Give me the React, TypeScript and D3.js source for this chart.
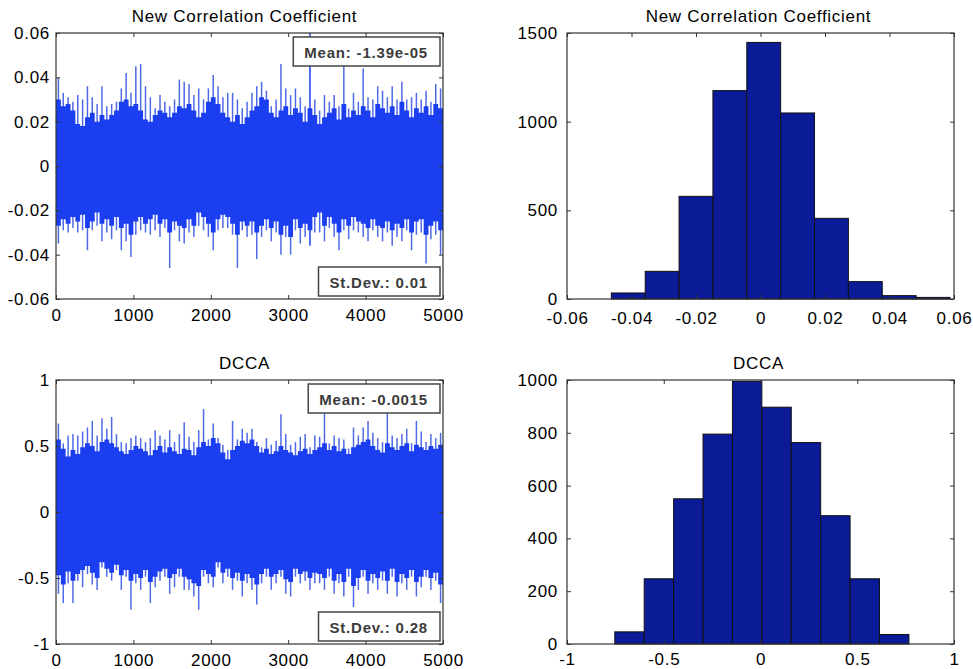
import React, { useEffect, useRef } from "react";
import * as d3 from "d3";

const seriesLength = 5000;

// New Correlation Coefficient series:
// peaks per 62.5-sample bin (the thin spikes) and the dense core per bin
const nccPeakHi = [
  0.040, 0.033, 0.031, 0.029, 0.032, 0.030, 0.036, 0.031, 0.028, 0.036,
  0.027, 0.028, 0.029, 0.035, 0.042, 0.033, 0.045, 0.046, 0.036, 0.031,
  0.026, 0.032, 0.029, 0.027, 0.030, 0.039, 0.038, 0.037, 0.032, 0.035,
  0.030, 0.035, 0.041, 0.036, 0.031, 0.033, 0.033, 0.030, 0.026, 0.029,
  0.033, 0.036, 0.038, 0.034, 0.027, 0.030, 0.046, 0.035, 0.032, 0.035,
  0.031, 0.027, 0.060, 0.030, 0.025, 0.032, 0.029, 0.032, 0.027, 0.045,
  0.026, 0.033, 0.029, 0.044, 0.031, 0.030, 0.036, 0.034, 0.031, 0.036,
  0.030, 0.038, 0.030, 0.031, 0.033, 0.030, 0.034, 0.029, 0.037, 0.035,
];
const nccPeakLo = [
  -0.035, -0.029, -0.030, -0.028, -0.030, -0.029, -0.038, -0.029, -0.027, -0.034,
  -0.030, -0.033, -0.029, -0.038, -0.034, -0.041, -0.031, -0.029, -0.030, -0.031,
  -0.029, -0.032, -0.028, -0.046, -0.029, -0.034, -0.035, -0.030, -0.032, -0.027,
  -0.029, -0.032, -0.038, -0.029, -0.028, -0.028, -0.031, -0.046, -0.029, -0.032,
  -0.031, -0.042, -0.032, -0.029, -0.034, -0.030, -0.040, -0.032, -0.040, -0.029,
  -0.035, -0.032, -0.036, -0.030, -0.030, -0.034, -0.028, -0.032, -0.038, -0.029,
  -0.033, -0.029, -0.030, -0.032, -0.034, -0.029, -0.032, -0.034, -0.030, -0.036,
  -0.032, -0.034, -0.029, -0.038, -0.031, -0.030, -0.044, -0.033, -0.031, -0.040,
];
const nccCoreHi = [
  0.030, 0.027, 0.028, 0.025, 0.019, 0.018, 0.022, 0.024, 0.020, 0.023,
  0.021, 0.023, 0.025, 0.029, 0.030, 0.027, 0.028, 0.025, 0.021, 0.020,
  0.023, 0.025, 0.024, 0.022, 0.024, 0.027, 0.026, 0.028, 0.025, 0.022,
  0.024, 0.029, 0.031, 0.028, 0.024, 0.022, 0.020, 0.023, 0.019, 0.022,
  0.025, 0.027, 0.031, 0.030, 0.024, 0.022, 0.025, 0.027, 0.023, 0.026,
  0.024, 0.020, 0.026, 0.023, 0.019, 0.022, 0.024, 0.026, 0.021, 0.028,
  0.022, 0.025, 0.023, 0.027, 0.025, 0.022, 0.028, 0.026, 0.024, 0.027,
  0.023, 0.029, 0.025, 0.022, 0.026, 0.024, 0.027, 0.023, 0.028, 0.026,
];
const nccCoreLo = [
  -0.027, -0.024, -0.026, -0.023, -0.025, -0.022, -0.028, -0.025, -0.021, -0.026,
  -0.024, -0.027, -0.023, -0.028, -0.026, -0.031, -0.025, -0.023, -0.026, -0.024,
  -0.022, -0.026, -0.024, -0.030, -0.025, -0.027, -0.028, -0.024, -0.027, -0.021,
  -0.023, -0.026, -0.030, -0.024, -0.022, -0.023, -0.026, -0.031, -0.025, -0.027,
  -0.025, -0.030, -0.027, -0.024, -0.028, -0.025, -0.031, -0.027, -0.032, -0.024,
  -0.028, -0.026, -0.029, -0.023, -0.021, -0.027, -0.023, -0.026, -0.030, -0.024,
  -0.027, -0.023, -0.025, -0.026, -0.028, -0.024, -0.027, -0.028, -0.025, -0.029,
  -0.026, -0.028, -0.024, -0.030, -0.025, -0.024, -0.031, -0.027, -0.025, -0.029,
];

// DCCA series, same binning
const dccaPeakHi = [
  0.67, 0.52, 0.58, 0.59, 0.58, 0.61, 0.64, 0.69, 0.58, 0.71,
  0.63, 0.72, 0.59, 0.53, 0.52, 0.56, 0.58, 0.56, 0.53, 0.56,
  0.62, 0.58, 0.55, 0.62, 0.53, 0.59, 0.68, 0.57, 0.53, 0.62,
  0.78, 0.55, 0.67, 0.56, 0.51, 0.47, 0.69, 0.55, 0.63, 0.60,
  0.63, 0.53, 0.49, 0.56, 0.51, 0.54, 0.74, 0.59, 0.51, 0.53,
  0.57, 0.59, 0.49, 0.58, 0.57, 0.77, 0.52, 0.58, 0.56, 0.55,
  0.48, 0.64, 0.58, 0.64, 0.69, 0.60, 0.56, 0.53, 0.77, 0.58,
  0.56, 0.59, 0.63, 0.52, 0.69, 0.61, 0.53, 0.59, 0.56, 0.60,
];
const dccaPeakLo = [
  -0.62, -0.69, -0.54, -0.69, -0.52, -0.57, -0.47, -0.55, -0.59, -0.42,
  -0.49, -0.52, -0.44, -0.59, -0.49, -0.74, -0.54, -0.59, -0.49, -0.69,
  -0.57, -0.52, -0.49, -0.62, -0.57, -0.49, -0.59, -0.59, -0.64, -0.74,
  -0.49, -0.54, -0.57, -0.42, -0.54, -0.49, -0.59, -0.52, -0.64, -0.54,
  -0.59, -0.70, -0.54, -0.49, -0.59, -0.54, -0.49, -0.62, -0.64, -0.49,
  -0.54, -0.52, -0.59, -0.54, -0.54, -0.59, -0.49, -0.62, -0.54, -0.64,
  -0.49, -0.72, -0.59, -0.49, -0.62, -0.54, -0.59, -0.52, -0.62, -0.49,
  -0.64, -0.54, -0.59, -0.49, -0.64, -0.57, -0.49, -0.59, -0.52, -0.69,
];
const dccaCoreHi = [
  0.55, 0.48, 0.42, 0.47, 0.44, 0.49, 0.52, 0.50, 0.46, 0.53,
  0.55, 0.52, 0.49, 0.46, 0.44, 0.47, 0.50, 0.48, 0.46, 0.43,
  0.47, 0.50, 0.45, 0.49, 0.46, 0.44, 0.48, 0.47, 0.43, 0.49,
  0.53, 0.50, 0.56, 0.52, 0.45, 0.40, 0.47, 0.50, 0.54, 0.52,
  0.55, 0.50, 0.45, 0.48, 0.44, 0.46, 0.50, 0.47, 0.45, 0.43,
  0.46, 0.48, 0.44, 0.47, 0.49, 0.52, 0.47, 0.50, 0.46, 0.48,
  0.44, 0.49, 0.51, 0.53, 0.55, 0.50, 0.47, 0.45, 0.52, 0.49,
  0.47, 0.50, 0.52, 0.46, 0.51, 0.49, 0.47, 0.50, 0.48, 0.51,
];
const dccaCoreLo = [
  -0.48, -0.55, -0.45, -0.52, -0.47, -0.44, -0.41, -0.46, -0.50, -0.38,
  -0.43, -0.46, -0.40, -0.48, -0.44, -0.52, -0.47, -0.50, -0.44, -0.53,
  -0.49, -0.45, -0.43, -0.50, -0.47, -0.43, -0.49, -0.51, -0.54, -0.56,
  -0.44, -0.47, -0.49, -0.38, -0.46, -0.43, -0.50, -0.46, -0.52, -0.47,
  -0.50, -0.55, -0.47, -0.43, -0.49, -0.47, -0.44, -0.51, -0.53, -0.43,
  -0.47, -0.45, -0.50, -0.46, -0.47, -0.50, -0.43, -0.52, -0.47, -0.53,
  -0.43, -0.56, -0.50, -0.44, -0.52, -0.47, -0.50, -0.45, -0.52, -0.43,
  -0.53, -0.47, -0.50, -0.44, -0.53, -0.49, -0.44, -0.50, -0.46, -0.55,
];

// histograms: bin centres and counts
const nccHistCenters = [-0.041, -0.0305, -0.020, -0.0095, 0.001, 0.0115, 0.022, 0.0325, 0.043, 0.0535];
const nccHistCounts = [34, 156, 579, 1175, 1447, 1049, 455, 98, 19, 9];
const dccaHistCenters = [-0.677, -0.525, -0.373, -0.221, -0.069, 0.083, 0.235, 0.387, 0.539, 0.691];
const dccaHistCounts = [46, 247, 550, 795, 995, 897, 763, 486, 247, 36];

const titles = ["New Correlation Coefficient", "DCCA"];
const nccStats = ["Mean: -1.39e-05", "St.Dev.: 0.01"];
const dccaStats = ["Mean: -0.0015", "St.Dev.: 0.28"];

const seriesXTicks = [0, 1000, 2000, 3000, 4000, 5000];
const nccYTicks = [-0.06, -0.04, -0.02, 0, 0.02, 0.04, 0.06];
const dccaYTicks = [-1, -0.5, 0, 0.5, 1];
const nccHistXTicks = [-0.06, -0.04, -0.02, 0, 0.02, 0.04, 0.06];
const nccHistYTicks = [0, 500, 1000, 1500];
const dccaHistXTicks = [-1, -0.5, 0, 0.5, 1];
const dccaHistYTicks = [0, 200, 400, 600, 800, 1000];

const FONT = "'Liberation Sans', Arial, Helvetica, sans-serif";
const LINE_BLUE = "#1b3ff0";
const SPIKE_BLUE = "#4f6ae6";
const BAR_BLUE = "#0b1a97";

function drawFrame(g, x, y, xTicks, yTicks, xPad, yPad, title, titleDx) {
  const [x0, x1] = x.range();
  const [y0, y1] = y.range();
  const fmt = (d) => String(d);
  const style = (sel) => {
    sel.select(".domain").remove();
    sel.attr("font-size", 17).attr("font-family", FONT);
    sel.selectAll("text").attr("fill", "#000").attr("letter-spacing", 0.7);
    sel.selectAll("line").attr("stroke", "#333");
  };
  g.append("g").attr("transform", `translate(0,${y0})`)
    .call(d3.axisBottom(x).tickValues(xTicks).tickFormat(fmt).tickSizeInner(-4).tickSizeOuter(0).tickPadding(xPad))
    .call(style);
  g.append("g").attr("transform", `translate(0,${y1})`)
    .call(d3.axisTop(x).tickValues(xTicks).tickFormat(() => "").tickSizeInner(-4).tickSizeOuter(0))
    .call(style);
  g.append("g").attr("transform", `translate(${x0},0)`)
    .call(d3.axisLeft(y).tickValues(yTicks).tickFormat(fmt).tickSizeInner(-4).tickSizeOuter(0).tickPadding(yPad))
    .call(style);
  g.append("g").attr("transform", `translate(${x1},0)`)
    .call(d3.axisRight(y).tickValues(yTicks).tickFormat(() => "").tickSizeInner(-4).tickSizeOuter(0))
    .call(style);

  g.append("rect")
    .attr("x", x0).attr("y", y1)
    .attr("width", x1 - x0).attr("height", y0 - y1)
    .attr("fill", "none").attr("stroke", "#333").attr("stroke-width", 1.2);

  g.append("text")
    .attr("x", (x0 + x1) / 2 + titleDx).attr("y", y1 - 11)
    .attr("text-anchor", "middle")
    .attr("font-family", FONT).attr("font-size", 17).attr("letter-spacing", 0.7)
    .text(title);
}

function drawStatBox(g, text, xRight, yTop, h) {
  const box = g.append("g");
  const rect = box.append("rect");
  const label = box.append("text")
    .attr("font-family", FONT).attr("font-size", 15).attr("font-weight", "bold")
    .attr("letter-spacing", 0.8).attr("fill", "#3c3c3c")
    .attr("dominant-baseline", "central")
    .text(text);
  const tw = label.node().getComputedTextLength();
  const w = tw + 23;
  rect.attr("x", xRight - w).attr("y", yTop).attr("width", w).attr("height", h)
    .attr("fill", "#fff").attr("stroke", "#444").attr("stroke-width", 1.5);
  label.attr("x", xRight - w + 11).attr("y", yTop + h / 2 + 1);
}

function drawSeries(g, id, box, domainY, yTicks, peakHi, peakLo, coreHi, coreLo, stats, title) {
  const x = d3.scaleLinear().domain([0, seriesLength]).range([box.x0, box.x1]);
  const y = d3.scaleLinear().domain(domainY).range([box.y1, box.y0]);

  g.append("clipPath").attr("id", id).append("rect")
    .attr("x", box.x0).attr("y", box.y0).attr("width", box.x1 - box.x0).attr("height", box.y1 - box.y0);
  const plot = g.append("g").attr("clip-path", `url(#${id})`);

  const peakStep = seriesLength / peakHi.length;
  plot.selectAll("line.spike")
    .data(d3.range(peakHi.length))
    .join("line")
    .attr("class", "spike")
    .attr("x1", (i) => x((i + 0.5) * peakStep))
    .attr("x2", (i) => x((i + 0.5) * peakStep))
    .attr("y1", (i) => y(peakLo[i]))
    .attr("y2", (i) => y(peakHi[i]))
    .attr("stroke", (i) => (peakHi[i] >= domainY[1] * 0.95 ? LINE_BLUE : SPIKE_BLUE))
    .attr("stroke-width", 1.5);

  const coreStep = seriesLength / coreHi.length;
  const core = coreHi.map((h, i) => ({ t: i * coreStep, hi: h, lo: coreLo[i] }));
  core.push({ t: seriesLength, hi: coreHi[coreHi.length - 1], lo: coreLo[coreLo.length - 1] });
  const area = d3.area()
    .x((d) => x(d.t))
    .y0((d) => y(d.lo))
    .y1((d) => y(d.hi))
    .curve(d3.curveStepAfter);
  plot.append("path").datum(core).attr("d", area).attr("fill", LINE_BLUE);

  drawFrame(g, x, y, seriesXTicks, yTicks, 10, 6, title, -5);
  drawStatBox(g, stats[0], box.x1 - 3, box.y0 + 4, 29);
  drawStatBox(g, stats[1], box.x1 - 3, box.y1 - 32, 29);
}

function drawHist(g, box, domainX, domainY, xTicks, yTicks, centers, counts, title, xPad) {
  const x = d3.scaleLinear().domain(domainX).range([box.x0, box.x1]);
  const y = d3.scaleLinear().domain(domainY).range([box.y1, box.y0]);
  const half = (centers[1] - centers[0]) / 2;

  g.selectAll(null)
    .data(centers)
    .join("rect")
    .attr("x", (c) => x(c - half))
    .attr("width", (c) => x(c + half) - x(c - half))
    .attr("y", (c, i) => y(counts[i]))
    .attr("height", (c, i) => y(0) - y(counts[i]))
    .attr("fill", BAR_BLUE)
    .attr("stroke", "#111")
    .attr("stroke-width", 1);

  drawFrame(g, x, y, xTicks, yTicks, xPad, 9, title, -2);
}

export default function App() {
  const ref = useRef(null);

  useEffect(() => {
    const svg = d3.select(ref.current);
    svg.selectAll("*").remove();
    const g = svg.append("g");

    drawSeries(g, "clipNcc", { x0: 56, x1: 443, y0: 33, y1: 299 }, [-0.06, 0.06], nccYTicks,
      nccPeakHi, nccPeakLo, nccCoreHi, nccCoreLo, nccStats, titles[0]);
    drawSeries(g, "clipDcca", { x0: 56, x1: 443, y0: 380, y1: 644 }, [-1, 1], dccaYTicks,
      dccaPeakHi, dccaPeakLo, dccaCoreHi, dccaCoreLo, dccaStats, titles[1]);
    drawHist(g.append("g"), { x0: 567, x1: 954, y0: 33, y1: 299 }, [-0.06, 0.06], [0, 1500],
      nccHistXTicks, nccHistYTicks, nccHistCenters, nccHistCounts, titles[0], 13);
    drawHist(g.append("g"), { x0: 567, x1: 954, y0: 380, y1: 644 }, [-1, 1], [0, 1000],
      dccaHistXTicks, dccaHistYTicks, dccaHistCenters, dccaHistCounts, titles[1], 9);
  }, []);

  return (
    <svg
      ref={ref}
      width={973}
      height={669}
      style={{ position: "absolute", left: 0, top: 0, display: "block", background: "#fff" }}
    />
  );
}
